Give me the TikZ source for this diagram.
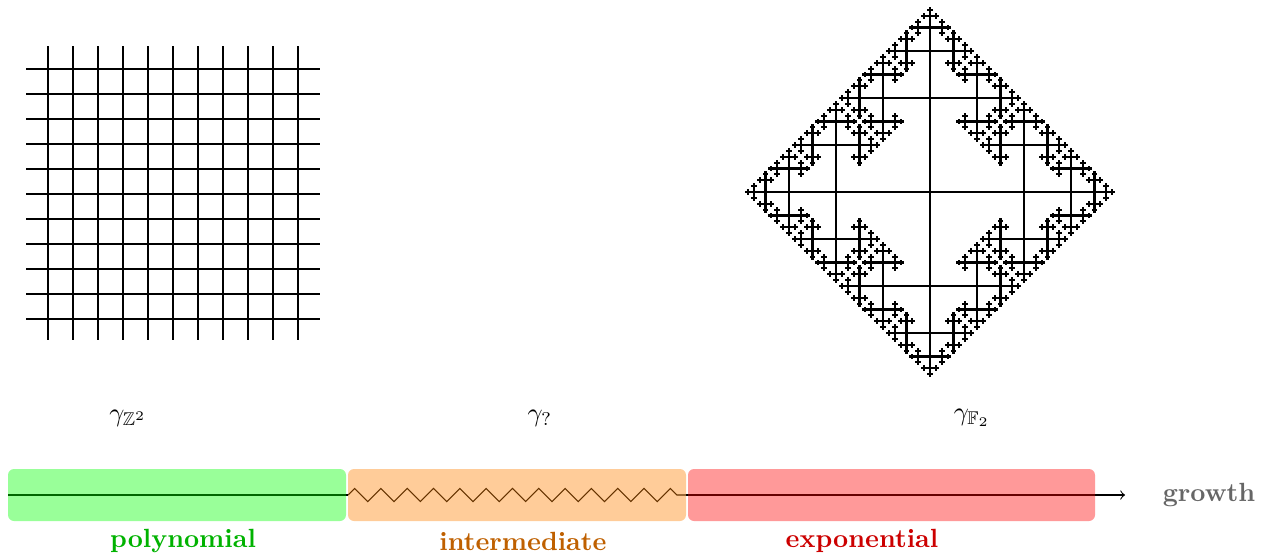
\documentclass[tikz,border=0pt]{standalone}
\usepackage{amssymb}
\usetikzlibrary{decorations.pathmorphing}

% Recursive drawing of the Cayley graph of the free group F_2:
% #1,#2 start point, #3 arm length, #4 direction that is not grown back into, #5 levels left
\newcommand\cayleyarm[5]{%
  \ifnum#5>0
    \foreach \d in {0,1,2,3}{%
      \ifnum\d=#4\relax\else
        \pgfmathsetmacro\nx{#1+#3*cos(90*\d)}%
        \pgfmathsetmacro\ny{#2+#3*sin(90*\d)}%
        \draw[treeline] (#1,#2) -- (\nx,\ny);
        \pgfmathtruncatemacro\bk{mod(\d+2,4)}%
        \pgfmathsetmacro\nl{#3/2}%
        \pgfmathtruncatemacro\nd{#5-1}%
        \edef\next{\noexpand\cayleyarm{\nx}{\ny}{\nl}{\bk}{\nd}}%
        \next
      \fi
    }%
  \fi
}

\begin{document}
\begin{tikzpicture}[x=0.38pt,y=-0.38pt,
  gridline/.style={line width=0.45pt},
  treeline/.style={line width=0.8pt},
  band/.style={rounded corners=2.3pt, fill opacity=0.4},
  kind/.style={font=\bfseries, anchor=base},
  grlabel/.style={anchor=center}]
  \useasboundingbox (0,0) rectangle (1266,554);

  % square lattice Z^2
  \foreach \i in {0,...,10}{
    \draw[gridline] (48+25*\i,46) -- (48+25*\i,340);
    \draw[gridline] (26,69+25*\i) -- (320,69+25*\i);
  }

  % free group F_2
  \cayleyarm{930}{192}{94}{4}{6}

  % growth labels
  \node[grlabel] (gz) at (128,418) {$\gamma_{\mathbb{Z}^2}$};
  \node[grlabel] (gq) at (540,418) {$\gamma_{?}$};
  \node[grlabel] (gf) at (972,418) {$\gamma_{\mathbb{F}_2}$};

  % growth axis
  \coordinate (a0) at (8,495);
  \coordinate (a1) at (348,495);
  \coordinate (a2) at (686,495);
  \coordinate (a3) at (1125,495);
  \draw (a0) -- (a1);
  \draw[decorate, decoration={zigzag, amplitude=2.5pt, segment length=10pt}] (a1) -- (a2);
  \draw[->] (a2) -- (a3);

  % coloured bands
  \fill[band, green] (8,469) rectangle (346,521);
  \fill[band, orange] (348,469) rectangle (686,521);
  \fill[band, red] (688,469) rectangle (1095,521);

  \node[kind, text=green!70!black] (poly) at (183,547) {polynomial};
  \node[kind, text=orange!75!black] (inter) at (523,550) {intermediate};
  \node[kind, text=red!80!black] (expo) at (862,547) {exponential};
  \node[kind, text=black!60] (growth) at (1209,501) {growth};
\end{tikzpicture}
\end{document}
